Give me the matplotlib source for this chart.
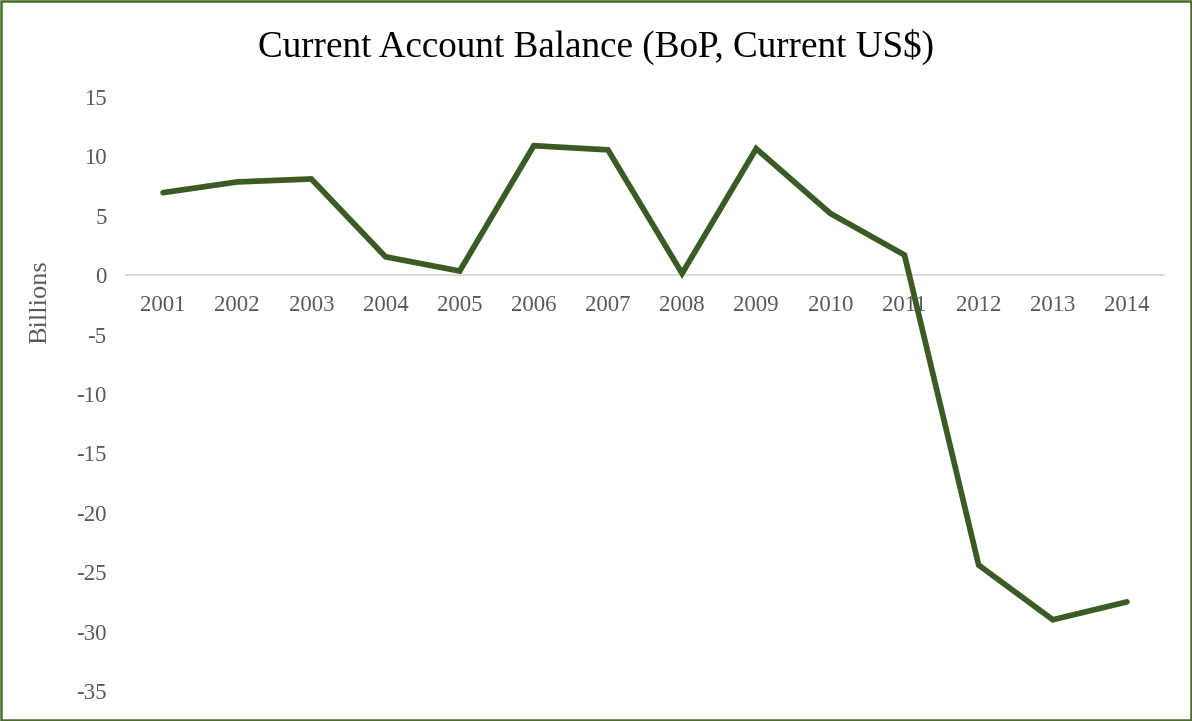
import matplotlib.pyplot as plt
from matplotlib.patches import Rectangle

years = ["2001", "2002", "2003", "2004", "2005", "2006", "2007",
         "2008", "2009", "2010", "2011", "2012", "2013", "2014"]
balance = [6.95, 7.85, 8.1, 1.55, 0.35, 10.9, 10.55,
           0.15, 10.65, 5.2, 1.7, -24.4, -29.0, -27.5]
y_ticks = [15, 10, 5, 0, -5, -10, -15, -20, -25, -30, -35]

LINE_COLOR = "#3b5a24"
FRAME_COLOR = "#4b6b2c"
LABEL_COLOR = "#595959"

plt.rcParams["font.family"] = ["Liberation Serif", "DejaVu Serif"]

fig = plt.figure(figsize=(11.92, 7.21), dpi=100)
ax = fig.add_axes([126 / 1192, 1 - 691 / 721, 1038 / 1192, 594 / 721])

x = range(len(years))
ax.plot(x, balance, color=LINE_COLOR, lw=4.1, solid_capstyle="round",
        solid_joinstyle="miter", zorder=3)

ax.set_xlim(-0.5, len(years) - 0.5)
ax.set_ylim(-35, 15)
ax.set_yticks(y_ticks)
ax.set_yticklabels([str(t) for t in y_ticks])
ax.set_xticks(list(x))
ax.set_xticklabels(years)

for side in ["top", "right", "left"]:
    ax.spines[side].set_visible(False)
ax.spines["bottom"].set_position(("data", 0))
ax.spines["bottom"].set_color("#d9d9d9")
ax.spines["bottom"].set_linewidth(1.3)
ax.tick_params(axis="both", length=0, labelsize=16.5, labelcolor=LABEL_COLOR)
ax.tick_params(axis="x", pad=14.5)
ax.tick_params(axis="y", pad=14)

ax.set_ylabel("Billions", fontsize=19, color=LABEL_COLOR)
ax.yaxis.set_label_coords(-0.072, 0.655)

fig.text(0.5, 1 - 47 / 721, "Current Account Balance (BoP, Current US$)",
         ha="center", va="center", fontsize=26.7, color="black")

fig.patches.append(Rectangle((0.001, 0.001), 0.998, 0.998, transform=fig.transFigure,
                             fill=False, edgecolor=FRAME_COLOR, lw=1.8))

fig.savefig("out.png", dpi=100, facecolor="white")
